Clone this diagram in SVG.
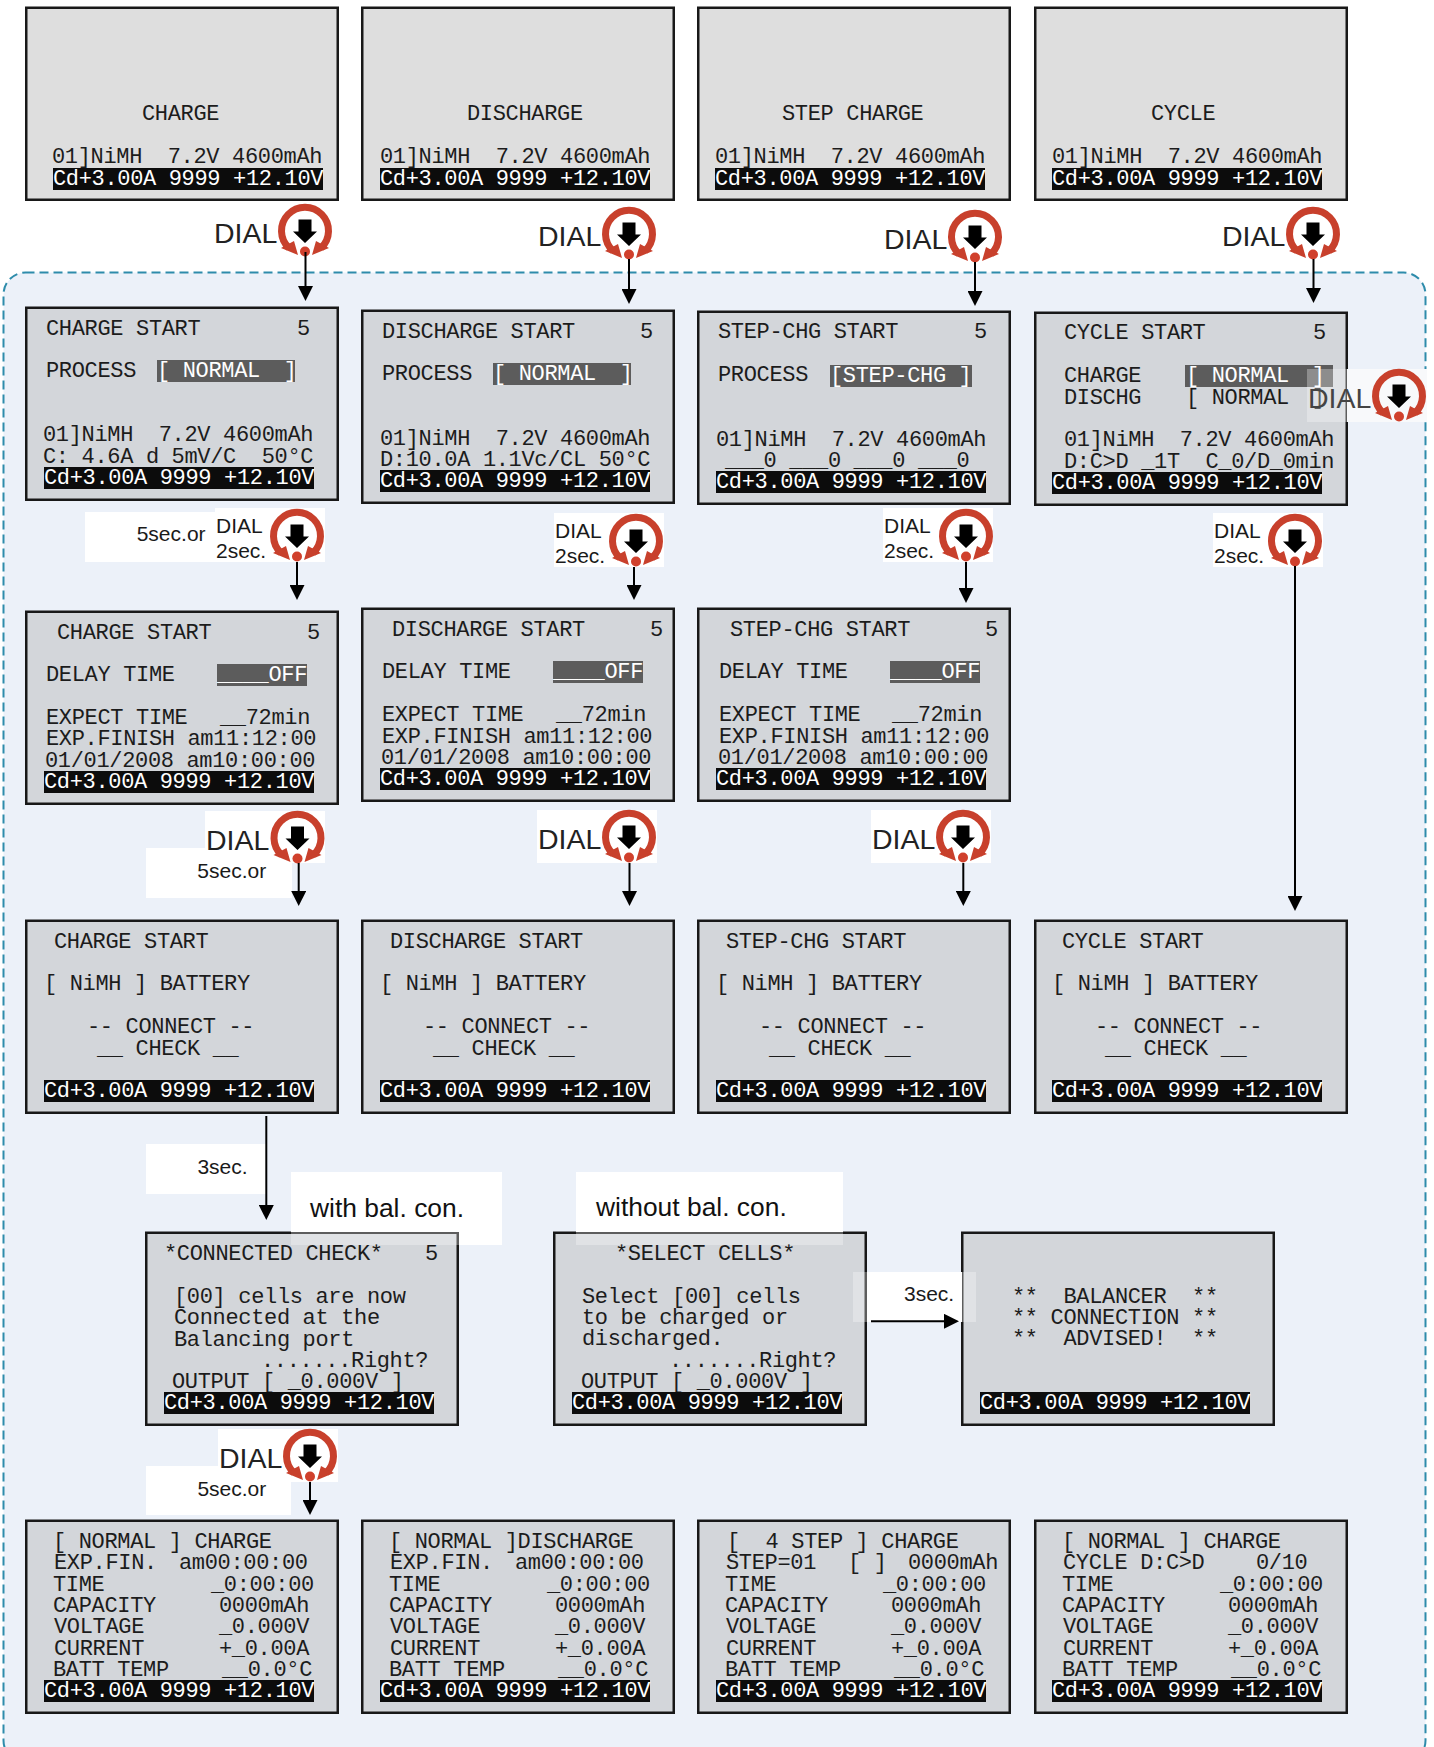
<svg xmlns="http://www.w3.org/2000/svg" width="1434" height="1747" viewBox="0 0 1434 1747">
<style>
text{font-family:"Liberation Mono",monospace;font-size:22px;letter-spacing:-.34px;fill:#1c1c1c;white-space:pre}
text.w{fill:#fff}
text.s{font-family:"Liberation Sans",Arial,sans-serif;letter-spacing:0;font-size:21px;fill:#1a1a1a}
text.d{font-family:"Liberation Sans",Arial,sans-serif;letter-spacing:0;font-size:28.5px;fill:#222}
text.big{font-family:"Liberation Sans",Arial,sans-serif;letter-spacing:0;font-size:26.4px;fill:#111}
.f,.t{x:1.25px;y:.75px;width:311.5px;height:192px;stroke:#181818;stroke-width:2.5}
.f{fill:#d3d6da}
.t{fill:#dedede}
.b{fill:#0c0c0c}
.h{fill:#5c5c5c}
.wh{fill:#fff}
.sm{fill:#fff;opacity:.3}
.c{fill:none;stroke:#000;stroke-width:2;marker-end:url(#a)}
</style>
<defs>
<marker id="a" markerUnits="userSpaceOnUse" markerWidth="15" markerHeight="15" refX="7" refY="7.5" orient="auto"><path d="M0,0L15,7.5L0,15Z" fill="#000"/></marker>
<g id="icon">
<path d="M-16,20A23.5,23.5 0 1 1 16,20" fill="none" stroke="#c8402c" stroke-width="7"/>
<path d="M-24,20L-11,13L-7,27ZM24,20L11,13L7,27Z" fill="#c8402c"/>
<circle cx="0" cy="23.5" r="5" fill="#d0402c"/>
<path d="M-6.5,-8.5H6.5V3.5H12L0,15L-12,3.5H-6.5Z" fill="#000"/>
</g>
</defs>
<rect x="0" y="0" width="1434" height="1747" fill="#fff"/>
<rect id="panel" x="3.5" y="272.5" width="1422" height="1490" rx="22" fill="#ecf1f9" stroke="#2e8cab" stroke-width="2" stroke-dasharray="9 5"/>

<!-- top row -->
<g id="n-charge" transform="translate(25,7)"><rect class="t"/><text x="117" y="113">CHARGE</text><text x="27" y="156">01]NiMH  7.2V 4600mAh</text><rect class="b" x="28" y="161" width="270" height="22"/><text class="w" x="28" y="178">Cd+3.00A 9999 +12.10V</text></g>
<g id="n-discharge" transform="translate(361,7)"><rect class="t"/><text x="106" y="113">DISCHARGE</text><text x="19" y="156">01]NiMH  7.2V 4600mAh</text><rect class="b" x="19" y="161" width="270" height="22"/><text class="w" x="19" y="178">Cd+3.00A 9999 +12.10V</text></g>
<g id="n-step" transform="translate(697,7)"><rect class="t"/><text x="85" y="113">STEP CHARGE</text><text x="18" y="156">01]NiMH  7.2V 4600mAh</text><rect class="b" x="18" y="161" width="270" height="22"/><text class="w" x="18" y="178">Cd+3.00A 9999 +12.10V</text></g>
<g id="n-cycle" transform="translate(1034,7)"><rect class="t"/><text x="117" y="113">CYCLE</text><text x="18" y="156">01]NiMH  7.2V 4600mAh</text><rect class="b" x="18" y="161" width="270" height="22"/><text class="w" x="18" y="178">Cd+3.00A 9999 +12.10V</text></g>

<!-- start row -->
<g id="n-charge-start" transform="translate(25,307)"><rect class="f"/><text x="21" y="28">CHARGE START</text><text x="272" y="28">5</text><text x="21" y="70">PROCESS</text><rect class="h" x="132" y="53" width="138" height="22"/><text class="w" x="132" y="70">[ NORMAL  <tspan dx="-2">]</tspan></text><text x="18" y="134">01]NiMH  7.2V 4600mAh</text><text x="18" y="156">C: 4.6A d 5mV/C  50°C</text><rect class="b" x="19" y="160" width="270" height="22"/><text class="w" x="19" y="177">Cd+3.00A 9999 +12.10V</text></g>
<g id="n-discharge-start" transform="translate(361,310)"><rect class="f"/><text x="21" y="28">DISCHARGE START</text><text x="279" y="28">5</text><text x="21" y="70">PROCESS</text><rect class="h" x="132" y="53" width="138" height="22"/><text class="w" x="132" y="70">[ NORMAL  <tspan dx="-2">]</tspan></text><text x="19" y="135">01]NiMH  7.2V 4600mAh</text><text x="19" y="156">D:10.0A 1.1Vc/CL 50°C</text><rect class="b" x="19" y="160" width="270" height="22"/><text class="w" x="19" y="177">Cd+3.00A 9999 +12.10V</text></g>
<g id="n-step-start" transform="translate(697,311)"><rect class="f"/><text x="21" y="27">STEP-CHG START</text><text x="277" y="27">5</text><text x="21" y="70">PROCESS</text><rect class="h" x="133" y="54" width="142" height="22"/><text class="w" x="133" y="71">[STEP-CHG ]</text><text x="19" y="135">01]NiMH  7.2V 4600mAh</text><text x="28" y="156">___0 ___0 ___0 ___0</text><rect class="b" x="19" y="160" width="270" height="22"/><text class="w" x="19" y="177">Cd+3.00A 9999 +12.10V</text></g>
<g id="n-cycle-start" transform="translate(1034,312)"><rect class="f"/><text x="30" y="27">CYCLE START</text><text x="279" y="27">5</text><text x="30" y="70">CHARGE</text><rect class="h" x="151" y="53" width="148" height="22"/><text class="w" x="152" y="70">[ NORMAL  <tspan dx="-3">]</tspan></text><text x="30" y="92">DISCHG</text><text x="152" y="92">[ NORMAL  <tspan dx="-3">]</tspan></text><text x="30" y="134">01]NiMH  7.2V 4600mAh</text><text x="30" y="156">D:C&gt;D _1T  C_0/D_0min</text><rect class="b" x="18" y="160" width="270" height="22"/><text class="w" x="18" y="177">Cd+3.00A 9999 +12.10V</text></g>

<!-- delay row -->
<g id="n-charge-delay" transform="translate(25,611)"><rect class="f"/><text x="32" y="28">CHARGE START</text><text x="282" y="28">5</text><text x="21" y="70">DELAY TIME</text><rect class="h" x="192" y="53" width="90" height="22"/><text class="w" x="192" y="70">____OFF</text><text x="21" y="113">EXPECT TIME</text><text x="195" y="113">__72min</text><text x="21" y="134">EXP.FINISH am11:12:00</text><text x="20" y="156">01/01/2008 am10:00:00</text><rect class="b" x="19" y="160" width="270" height="22"/><text class="w" x="19" y="177">Cd+3.00A 9999 +12.10V</text></g>
<g id="n-discharge-delay" transform="translate(361,608)"><rect class="f"/><text x="31" y="28">DISCHARGE START</text><text x="289" y="28">5</text><text x="21" y="70">DELAY TIME</text><rect class="h" x="192" y="53" width="90" height="22"/><text class="w" x="192" y="70">____OFF</text><text x="21" y="113">EXPECT TIME</text><text x="195" y="113">__72min</text><text x="21" y="135">EXP.FINISH am11:12:00</text><text x="20" y="156">01/01/2008 am10:00:00</text><rect class="b" x="19" y="160" width="270" height="22"/><text class="w" x="19" y="177">Cd+3.00A 9999 +12.10V</text></g>
<g id="n-step-delay" transform="translate(697,608)"><rect class="f"/><text x="33" y="28">STEP-CHG START</text><text x="288" y="28">5</text><text x="22" y="70">DELAY TIME</text><rect class="h" x="193" y="53" width="90" height="22"/><text class="w" x="193" y="70">____OFF</text><text x="22" y="113">EXPECT TIME</text><text x="195" y="113">__72min</text><text x="22" y="135">EXP.FINISH am11:12:00</text><text x="21" y="156">01/01/2008 am10:00:00</text><rect class="b" x="19" y="160" width="270" height="22"/><text class="w" x="19" y="177">Cd+3.00A 9999 +12.10V</text></g>

<!-- battery row -->
<g id="n-charge-batt" transform="translate(25,920)"><rect class="f"/><text x="29" y="28">CHARGE START</text><text x="19" y="70">[ NiMH ] BATTERY</text><text x="62" y="113">-- CONNECT --</text><text x="72" y="135">__ CHECK __</text><rect class="b" x="19" y="160" width="270" height="22"/><text class="w" x="19" y="177">Cd+3.00A 9999 +12.10V</text></g>
<g id="n-discharge-batt" transform="translate(361,920)"><rect class="f"/><text x="29" y="28">DISCHARGE START</text><text x="19" y="70">[ NiMH ] BATTERY</text><text x="62" y="113">-- CONNECT --</text><text x="72" y="135">__ CHECK __</text><rect class="b" x="19" y="160" width="270" height="22"/><text class="w" x="19" y="177">Cd+3.00A 9999 +12.10V</text></g>
<g id="n-step-batt" transform="translate(697,920)"><rect class="f"/><text x="29" y="28">STEP-CHG START</text><text x="19" y="70">[ NiMH ] BATTERY</text><text x="62" y="113">-- CONNECT --</text><text x="72" y="135">__ CHECK __</text><rect class="b" x="19" y="160" width="270" height="22"/><text class="w" x="19" y="177">Cd+3.00A 9999 +12.10V</text></g>
<g id="n-cycle-batt" transform="translate(1034,920)"><rect class="f"/><text x="28" y="28">CYCLE START</text><text x="18" y="70">[ NiMH ] BATTERY</text><text x="61" y="113">-- CONNECT --</text><text x="71" y="135">__ CHECK __</text><rect class="b" x="18" y="160" width="270" height="22"/><text class="w" x="18" y="177">Cd+3.00A 9999 +12.10V</text></g>

<!-- middle row -->
<g id="n-connected" transform="translate(145,1232)"><rect class="f"/><text x="19" y="28">*CONNECTED CHECK*</text><text x="280" y="28">5</text><text x="29" y="71">[00] cells are now</text><text x="29" y="92">Connected at the</text><text x="29" y="114">Balancing port</text><text x="116" y="135">.......Right?</text><text x="27" y="156">OUTPUT [ _0.000V ]</text><rect class="b" x="19" y="160" width="270" height="22"/><text class="w" x="19" y="177">Cd+3.00A 9999 +12.10V</text></g>
<g id="n-select" transform="translate(553,1232)"><rect class="f"/><text x="62" y="28">*SELECT CELLS*</text><text x="29" y="71">Select [00] cells</text><text x="29" y="92">to be charged or</text><text x="29" y="113">discharged.</text><text x="116" y="135">.......Right?</text><text x="28" y="156">OUTPUT [ _0.000V ]</text><rect class="b" x="19" y="160" width="270" height="22"/><text class="w" x="19" y="177">Cd+3.00A 9999 +12.10V</text></g>
<g id="n-advised" transform="translate(961,1232)"><rect class="f"/><text x="51" y="71">**  BALANCER  **</text><text x="51" y="92">** CONNECTION **</text><text x="51" y="113">**  ADVISED!  **</text><rect class="b" x="19" y="160" width="270" height="22"/><text class="w" x="19" y="177">Cd+3.00A 9999 +12.10V</text></g>

<!-- bottom row -->
<g id="n-charge-run" transform="translate(25,1520)"><rect class="f"/><text x="28" y="28">[ NORMAL ] CHARGE</text><text x="29" y="49">EXP.FIN.</text><text x="154" y="49">am00:00:00</text><text x="28" y="71">TIME</text><text x="186" y="71">_0:00:00</text><text x="28" y="92">CAPACITY</text><text x="194" y="92">0000mAh</text><text x="29" y="113">VOLTAGE</text><text x="194" y="113">_0.000V</text><text x="29" y="135">CURRENT</text><text x="194" y="135">+_0.00A</text><text x="28" y="156">BATT TEMP</text><text x="197" y="156">__0.0°C</text><rect class="b" x="19" y="160" width="270" height="22"/><text class="w" x="19" y="177">Cd+3.00A 9999 +12.10V</text></g>
<g id="n-discharge-run" transform="translate(361,1520)"><rect class="f"/><text x="28" y="28">[ NORMAL ]DISCHARGE</text><text x="29" y="49">EXP.FIN.</text><text x="154" y="49">am00:00:00</text><text x="28" y="71">TIME</text><text x="186" y="71">_0:00:00</text><text x="28" y="92">CAPACITY</text><text x="194" y="92">0000mAh</text><text x="29" y="113">VOLTAGE</text><text x="194" y="113">_0.000V</text><text x="29" y="135">CURRENT</text><text x="194" y="135">+_0.00A</text><text x="28" y="156">BATT TEMP</text><text x="197" y="156">__0.0°C</text><rect class="b" x="19" y="160" width="270" height="22"/><text class="w" x="19" y="177">Cd+3.00A 9999 +12.10V</text></g>
<g id="n-step-run" transform="translate(697,1520)"><rect class="f"/><text x="30" y="28">[  4 STEP ] CHARGE</text><text x="29" y="49">STEP=01</text><text x="151" y="49">[ ]</text><text x="211" y="49">0000mAh</text><text x="28" y="71">TIME</text><text x="186" y="71">_0:00:00</text><text x="28" y="92">CAPACITY</text><text x="194" y="92">0000mAh</text><text x="29" y="113">VOLTAGE</text><text x="194" y="113">_0.000V</text><text x="29" y="135">CURRENT</text><text x="194" y="135">+_0.00A</text><text x="28" y="156">BATT TEMP</text><text x="197" y="156">__0.0°C</text><rect class="b" x="19" y="160" width="270" height="22"/><text class="w" x="19" y="177">Cd+3.00A 9999 +12.10V</text></g>
<g id="n-cycle-run" transform="translate(1034,1520)"><rect class="f"/><text x="28" y="28">[ NORMAL ] CHARGE</text><text x="29" y="49">CYCLE D:C&gt;D</text><text x="222" y="49">0/10</text><text x="28" y="71">TIME</text><text x="186" y="71">_0:00:00</text><text x="28" y="92">CAPACITY</text><text x="194" y="92">0000mAh</text><text x="29" y="113">VOLTAGE</text><text x="194" y="113">_0.000V</text><text x="29" y="135">CURRENT</text><text x="194" y="135">+_0.00A</text><text x="28" y="156">BATT TEMP</text><text x="197" y="156">__0.0°C</text><rect class="b" x="18" y="160" width="270" height="22"/><text class="w" x="18" y="177">Cd+3.00A 9999 +12.10V</text></g>

<!-- labels -->
<g id="l-with"><rect class="wh" x="291" y="1172" width="211" height="60"/><rect class="wh" x="459" y="1232" width="43" height="13"/><rect class="sm" x="291" y="1232" width="168" height="13"/><text class="big" x="310" y="1217">with bal. con.</text></g>
<g id="l-without"><rect class="wh" x="576" y="1172" width="267" height="60"/><rect class="sm" x="576" y="1232" width="267" height="13"/><text class="big" x="596" y="1216">without bal. con.</text></g>
<g id="l-3sec-a"><rect class="wh" x="146" y="1144" width="120" height="50"/><text class="s" x="197.4" y="1173.5">3sec.</text></g>
<g id="l-3sec-b"><rect class="wh" x="867" y="1272" width="95" height="50"/><rect class="sm" x="853" y="1272" width="14" height="50"/><rect class="sm" x="962" y="1272" width="14" height="50"/><text class="s" x="904" y="1301">3sec.</text></g>

<!-- dials -->
<g id="d1"><rect class="wh" x="213" y="204" width="120" height="53"/><text class="d" x="214" y="243">DIAL</text><use href="#icon" x="305" y="228"/></g>
<g id="d2"><rect class="wh" x="537" y="207" width="120" height="53"/><text class="d" x="538" y="246">DIAL</text><use href="#icon" x="629" y="231"/></g>
<g id="d3"><rect class="wh" x="883" y="210" width="120" height="53"/><text class="d" x="884" y="249">DIAL</text><use href="#icon" x="975" y="234"/></g>
<g id="d4"><rect class="wh" x="1221" y="207" width="120" height="53"/><text class="d" x="1222" y="246">DIAL</text><use href="#icon" x="1313" y="231"/></g>
<g id="d5"><rect class="sm" x="1307" y="369" width="40" height="53"/><rect fill="#f8f9fb" x="1347" y="369" width="80" height="53"/><text class="d" x="1308" y="408" style="fill:#444">DIAL</text><use href="#icon" x="1399" y="393"/></g>
<g id="d6"><rect class="wh" x="85" y="512" width="130" height="50"/><rect class="wh" x="215" y="508" width="110" height="54"/><text class="s" x="136.7" y="540.7">5sec.or</text><text class="s" x="216" y="532.7">DIAL</text><text class="s" x="216" y="557.7">2sec.</text><use href="#icon" x="297" y="533"/></g>
<g id="d7"><rect class="wh" x="554" y="513" width="110" height="54"/><text class="s" x="555" y="537.7">DIAL</text><text class="s" x="555" y="562.7">2sec.</text><use href="#icon" x="636" y="538"/></g>
<g id="d8"><rect class="wh" x="883" y="508" width="110" height="54"/><text class="s" x="884" y="532.7">DIAL</text><text class="s" x="884" y="557.7">2sec.</text><use href="#icon" x="966" y="533"/></g>
<g id="d9"><rect class="wh" x="1213" y="513" width="110" height="54"/><text class="s" x="1214" y="537.7">DIAL</text><text class="s" x="1214" y="562.7">2sec.</text><use href="#icon" x="1295" y="538"/></g>
<g id="d10"><rect class="wh" x="205" y="811" width="120" height="52"/><rect class="wh" x="146" y="848" width="146" height="50"/><text class="d" x="206" y="850">DIAL</text><text class="s" x="197.3" y="878.3">5sec.or</text><use href="#icon" x="297.5" y="835"/></g>
<g id="d11"><rect class="wh" x="537" y="810" width="120" height="53"/><text class="d" x="538" y="849">DIAL</text><use href="#icon" x="629" y="834"/></g>
<g id="d12"><rect class="wh" x="871" y="810" width="120" height="53"/><text class="d" x="872" y="849">DIAL</text><use href="#icon" x="963" y="834"/></g>
<g id="d13"><rect class="wh" x="218" y="1429" width="120" height="53"/><rect class="wh" x="146" y="1466" width="145" height="49"/><text class="d" x="219" y="1468">DIAL</text><text class="s" x="197.4" y="1496">5sec.or</text><use href="#icon" x="310" y="1453"/></g>

<g id="connectors">
<line class="c" x1="305.5" y1="252" x2="305.5" y2="293"/>
<line class="c" x1="629" y1="259" x2="629" y2="296"/>
<line class="c" x1="975" y1="262" x2="975" y2="298"/>
<line class="c" x1="1313.5" y1="259" x2="1313.5" y2="295"/>
<line class="c" x1="297" y1="562" x2="297" y2="592"/>
<line class="c" x1="634" y1="567" x2="634" y2="592"/>
<line class="c" x1="966" y1="562" x2="966" y2="595"/>
<line class="c" x1="1295" y1="566" x2="1295" y2="903"/>
<line class="c" x1="298.7" y1="863" x2="298.7" y2="898"/>
<line class="c" x1="629.5" y1="863" x2="629.5" y2="898"/>
<line class="c" x1="963.3" y1="863" x2="963.3" y2="898"/>
<line class="c" x1="266.3" y1="1116" x2="266.3" y2="1212"/>
<line class="c" x1="310" y1="1482" x2="310" y2="1507"/>
<line class="c" x1="871" y1="1321.3" x2="951" y2="1321.3"/>
</g>
</svg>
